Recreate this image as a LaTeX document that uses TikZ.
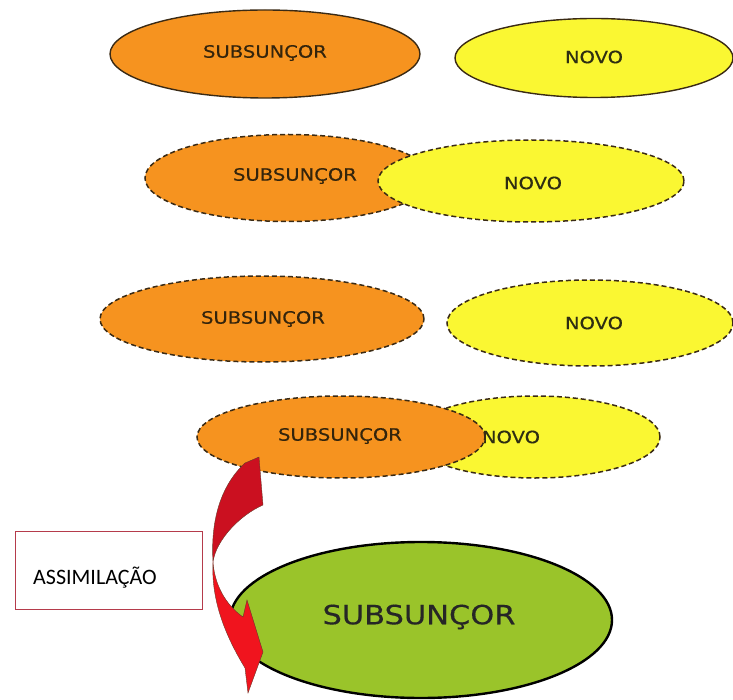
\documentclass[tikz,border=0pt]{standalone}
\usepackage{fontspec}
\usetikzlibrary{shapes.geometric}
\newfontfamily\ellfont[FakeStretch=1.15,FakeBold=0.4]{DejaVu Sans}
\newfontfamily\boxfont{Carlito}
\definecolor{orangefill}{HTML}{F6931F}
\definecolor{yellowfill}{HTML}{FAF732}
\definecolor{greenfill}{HTML}{9AC42A}
\definecolor{txtdark}{HTML}{33240C}
\definecolor{novotxt}{HTML}{2E2E12}
\definecolor{borderdark}{HTML}{3A2A14}
\definecolor{boxborder}{HTML}{B53B4B}
\definecolor{darkred}{HTML}{CB1020}
\definecolor{brightred}{HTML}{F0141E}
\definecolor{arrowedge}{HTML}{6A3A2A}
\tikzset{
  ell/.style={ellipse, inner sep=0pt, outer sep=0pt},
  solidell/.style={ell, draw=borderdark, line width=1.4pt},
  dashell/.style={ell, draw=borderdark, line width=1.5pt, dash pattern=on 5pt off 3pt},
  sublbl/.style={font=\ellfont\fontsize{17}{20}\selectfont, text=txtdark, inner sep=0pt},
  novolbl/.style={font=\ellfont\fontsize{17}{20}\selectfont, text=novotxt, inner sep=0pt},
  ORANGE/.style={fill=orangefill},
  YELLOW/.style={fill=yellowfill},
}
\begin{document}
\begin{tikzpicture}[x=1pt,y=-1pt]
\useasboundingbox (0,0) rectangle (733,700);
% row 1
\node[solidell, ORANGE, minimum width=310pt, minimum height=88pt] (o1) at (265,54) {};
\node[sublbl] (t1) at (265,53) {SUBSUNÇOR};
\node[solidell, YELLOW, minimum width=278pt, minimum height=79pt] (y1) at (594,58) {};
\node[novolbl] (n1) at (594,57) {NOVO};
% row 2
\node[dashell, ORANGE, minimum width=286pt, minimum height=87pt] (o2) at (288,178) {};
\node[sublbl] (t2) at (295,176) {SUBSUNÇOR};
\node[dashell, YELLOW, minimum width=306pt, minimum height=82pt] (y2) at (531,181) {};
\node[novolbl] (n2) at (533,183) {NOVO};
% row 3
\node[dashell, ORANGE, minimum width=324pt, minimum height=86pt] (o3) at (262,319) {};
\node[sublbl] (t3) at (263,319) {SUBSUNÇOR};
\node[dashell, YELLOW, minimum width=286pt, minimum height=86pt] (y3) at (590,323) {};
\node[novolbl] (n3) at (594,323) {NOVO};
% row 4
\node[dashell, YELLOW, minimum width=250pt, minimum height=82pt] (y4) at (535,437) {};
\node[novolbl] (n4) at (511,437) {NOVO};
\node[dashell, ORANGE, minimum width=288pt, minimum height=82pt] (o4) at (341,437) {};
\node[sublbl] (t4) at (340,436) {SUBSUNÇOR};
% big green
\node[ell, draw=black, line width=2.4pt, fill=greenfill, minimum width=382pt, minimum height=156pt] (g) at (421,620) {};
\node[font=\ellfont\fontsize{26.5}{30}\selectfont, text=black!85, inner sep=0pt] (gt) at (419,617) {SUBSUNÇOR};
% box
\node[draw=boxborder, line width=1pt, fill=white, minimum width=187pt, minimum height=78pt, anchor=north west] (box) at (15,531) {};
\node[font=\boxfont\fontsize{22}{24}\selectfont, inner sep=0pt, anchor=west] (boxtxt) at (33,578) {ASSIMILAÇÃO};
% curved arrow
\coordinate (mid) at (213,562);
\fill[darkred, draw=arrowedge, line width=0.4pt]
  (245,463) -- (259,457) -- (263,505)
  .. controls (240,515) and (216,540) .. (mid)
  .. controls (211,530) and (216,490) .. cycle;
\fill[brightred, draw=arrowedge, line width=0.4pt]
  (mid) .. controls (215,590) and (230,608) .. (243,617)
  -- (247,600) -- (263,652) -- (248,693) -- (245,668)
  .. controls (225,635) and (211,600) .. (mid);
\end{tikzpicture}
\end{document}
